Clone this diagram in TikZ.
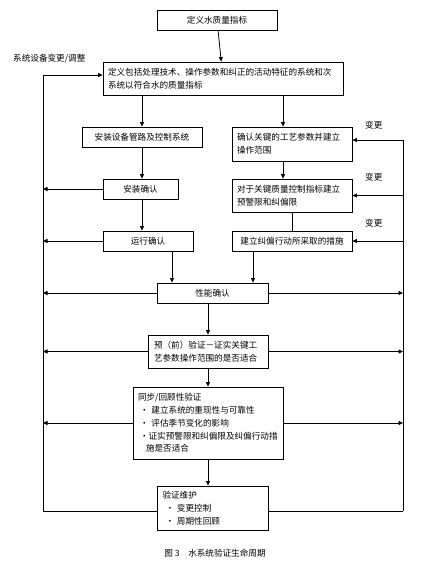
\documentclass[tikz,border=0pt]{standalone}
\usepackage{fontspec}
\setmainfont{Noto Sans CJK SC}
\usetikzlibrary{arrows.meta,calc}
\begin{document}
\begin{tikzpicture}[x=1pt,y=-1pt,
  every node/.style={font=\fontsize{8.6}{12.8}\selectfont},
  box/.style={draw,line width=0.8pt,fill=white,inner sep=0pt,minimum width=#1},
  ln/.style={line width=0.8pt},
  arr/.style={ln,-{Triangle[length=4.5pt,width=4pt]}},
  lbl/.style={anchor=west,inner sep=0pt}]
\useasboundingbox (0,0) rectangle (445,574);
% nodes
\node[box=120,minimum height=20] (B1) at (217,20) {定义水质量指标};
\node[box=240,minimum height=33,text width=230,align=left] (B2) at (223,78.5) {定义包括处理技术、操作参数和纠正的活动特征的系统和次\\系统以符合水的质量指标};
\node[box=120,minimum height=20] (B3L) at (142,137) {安装设备管路及控制系统};
\node[box=75,minimum height=20] (B4L) at (140.5,189) {安装确认};
\node[box=90,minimum height=20] (B5L) at (148,241) {运行确认};
\node[box=120,minimum height=34,text width=110,align=left] (B3R) at (292,144) {确认关键的工艺参数并建立\\操作范围};
\node[box=120,minimum height=33,text width=110,align=left] (B4R) at (292,195.5) {对于关键质量控制指标建立\\预警限和纠偏限};
\node[box=120,minimum height=20] (B5R) at (292,241) {建立纠偏行动所采取的措施};
\node[box=111,minimum height=20] (B6) at (212.5,293) {性能确认};
\node[box=120,minimum height=33,text width=108,align=left] (B7) at (208,351.5) {预（前）验证－证实关键工\\艺参数操作范围的是否适合};
\node[box=150,minimum height=72,text width=140,align=left] (B8) at (208,423) {同步/回顾性验证\\\hspace*{2pt}• 建立系统的重现性与可靠性\\\hspace*{2pt}• 评估季节变化的影响\\\hspace*{2pt}•证实预警限和纠偏限及纠偏行动措\\\hspace*{8pt}施是否适合};
\node[box=111,minimum height=44,text width=100,align=left] (B9) at (212.5,508) {验证维护\\\hspace*{3pt}• 变更控制\\\hspace*{3pt}• 周期性回顾};
% loop coordinates
\coordinate (LT) at (43,75);
\coordinate (LB) at (43,511);
\coordinate (RT) at (403,140);
\coordinate (RB) at (403,511);
\coordinate (RX) at (283,0);
% labels
\node[lbl] (LL) at (13,59) {系统设备变更/调整};
\node[lbl] (V1) at (365,125) {变更};
\node[lbl] (V2) at (365,177) {变更};
\node[lbl] (V3) at (365,223) {变更};
\node (CAP) at (215,553) {图 3\quad 水系统验证生命周期};
% main flow
\draw[arr] (B1) -- (B2);
\draw[arr] (B2.south -| B3L) -- (B3L);
\draw[arr] (B2.south -| RX) -- (B3R.north -| RX);
\draw[arr] (B3L) -- (B4L.north -| B3L);
\draw[arr] (B4L.south -| B3L) -- (B5L.north -| B3L);
\draw[arr] ([xshift=24pt]B5L.south) -- ([xshift=24pt]B5L.south |- B6.north);
\draw[arr] (B3R.south -| RX) -- (B4R.north -| RX);
\draw[ln] (B4R.south) -- (B5R.north);
\draw[arr] ([xshift=-39pt]B5R.south) -- ([xshift=-39pt]B5R.south |- B6.north);
\draw[arr] ([xshift=-4.5pt]B6.south) -- (B7.north);
\draw[arr] (B7) -- (B8);
\draw[arr] (B8) -- (B9.north -| B8);
% left loop
\draw[ln] (LB) -- (LT);
\draw[arr] (LT) -- (B2.west |- LT);
\draw[arr] (B4L.west) -- (B4L.west -| LT);
\draw[arr] (B5L.west) -- (B5L.west -| LT);
\draw[arr] (B6.west) -- (B6.west -| LT);
\draw[arr] (B7.west) -- (B7.west -| LT);
\draw[arr] (B8.west) -- (B8.west -| LT);
\draw[ln] (LB) -- (B9.west |- LB);
% right loop
\draw[ln] (RB) -- (RT);
\draw[arr] (RT) -- (B3R.east |- RT);
\draw[arr] (B4R.east -| RT) -- (B4R.east);
\draw[arr] (B5R.east -| RT) -- (B5R.east);
\draw[arr] (B6.east) -- (B6.east -| RT);
\draw[arr] (B7.east) -- (B7.east -| RT);
\draw[arr] (B8.east) -- (B8.east -| RT);
\draw[ln] (B9.east |- RB) -- (RB);
\end{tikzpicture}
\end{document}
